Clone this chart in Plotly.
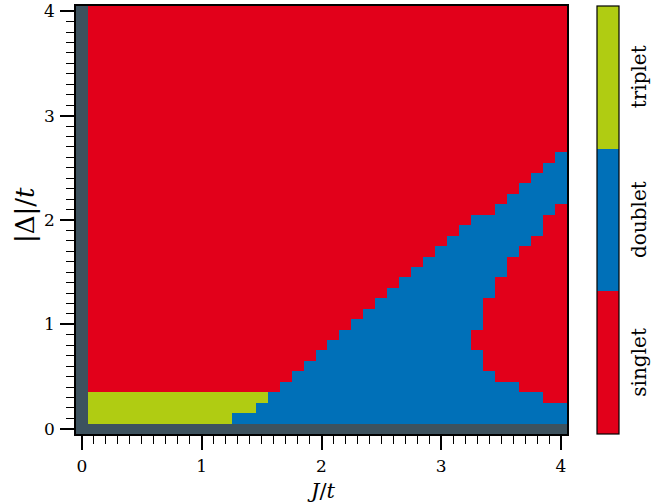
import numpy as np
import plotly.graph_objects as go

# ---- data -------------------------------------------------------------
J_vals = [round(0.1 * i, 1) for i in range(41)]        # J/t
D_vals = [round(0.1 * i, 1) for i in range(41)]        # |Delta|/t

# top of the low-|Delta| doublet region per column (0 = no doublet)
doublet_top = [0.0] * 13 + [0.1, 0.1, 0.2, 0.3, 0.4, 0.5, 0.6, 0.7, 0.8, 0.9,
                            1.0, 1.1, 1.2, 1.3, 1.4, 1.5, 1.6, 1.7, 1.8, 1.9,
                            2.0, 2.0, 2.1, 2.2, 2.3, 2.4, 2.5, 2.6]
# top of the triplet region per column (0 = none)
triplet_top = [0.0] + [0.3] * 15 + [0.0] * 25
# singlet pocket inside the doublet region, columns J = 3.3 ... 4.0
pocket_J = [3.3, 3.4, 3.5, 3.6, 3.7, 3.8, 3.9, 4.0]
pocket_lo = [0.8, 0.6, 0.5, 0.5, 0.4, 0.4, 0.3, 0.3]
pocket_hi = [0.9, 1.2, 1.4, 1.6, 1.7, 1.8, 2.0, 2.1]

phase_names = ["singlet", "doublet", "triplet"]
colors = {"singlet": "#e2001a", "doublet": "#0070b8", "triplet": "#b0cc12",
          "undefined": "#3d525e"}

# ---- build the grid ---------------------------------------------------
nJ, nD = len(J_vals), len(D_vals)
z = np.full((nD, nJ), 0.0)   # singlet default
for i in range(nJ):
    dt = int(round(doublet_top[i] * 10))
    tt = int(round(triplet_top[i] * 10))
    for j in range(1, nD):
        if j <= dt:
            z[j, i] = 1
        elif j <= tt:
            z[j, i] = 2
for k, jv in enumerate(pocket_J):
    i = int(round(jv * 10))
    for j in range(int(round(pocket_lo[k] * 10)), int(round(pocket_hi[k] * 10)) + 1):
        z[j, i] = 0
zg = np.full((nD, nJ), np.nan)
zg[0, :] = 1
zg[:, 0] = 1
z[0, :] = np.nan
z[:, 0] = np.nan

r, b, g = colors["singlet"], colors["doublet"], colors["triplet"]
cscale = [[0, r], [1 / 3, r], [1 / 3, b], [2 / 3, b], [2 / 3, g], [1, g]]

FONT = "DejaVu Serif"
L, R, T, B = 76, 84, 6, 70
PW, PH = 651 - L - R, 504 - T - B

def px_x(p):
    return (p - L) / PW

def px_y(p):
    return (504 - B - p) / PH

fig = go.Figure()
fig.add_trace(go.Heatmap(
    x=J_vals, y=D_vals, z=zg, colorscale=[[0, colors["undefined"]], [1, colors["undefined"]]],
    showscale=False, hoverinfo="skip"))
fig.add_trace(go.Heatmap(
    x=J_vals, y=D_vals, z=z, zmin=-0.5, zmax=2.5, colorscale=cscale,
    colorbar=dict(x=px_x(597), xanchor="left", xpad=0, y=0.5, yanchor="middle",
                  ypad=0, len=1, lenmode="fraction", thickness=22,
                  outlinewidth=1.2, outlinecolor="black",
                  showticklabels=False, ticks="")))

for k, name in enumerate(phase_names):
    fig.add_annotation(x=px_x(639), y=(k + 0.5) / 3, xref="paper", yref="paper",
                       text=name, textangle=-90, showarrow=False,
                       xanchor="center", yanchor="middle",
                       font=dict(family=FONT, size=20, color="black"))

fig.add_annotation(x=px_x(321), y=px_y(491), xref="paper", yref="paper",
                   text="<i>J</i>/<i>t</i>", showarrow=False,
                   xanchor="center", yanchor="middle",
                   font=dict(family=FONT, size=21, color="black"))
fig.add_annotation(x=px_x(25), y=px_y(215), xref="paper", yref="paper",
                   text="|Δ|/<i>t</i>", textangle=-90, showarrow=False,
                   xanchor="center", yanchor="middle",
                   font=dict(family=FONT, size=26, color="black"))

axis_common = dict(showline=True, mirror=True, linecolor="black", linewidth=1.5,
                   ticks="outside", ticklen=14, tickwidth=2, tickcolor="black",
                   dtick=1, tick0=0, showgrid=False, zeroline=False,
                   automargin=False, ticklabelstandoff=2,
                   tickfont=dict(family=FONT, size=17, color="black"),
                   minor=dict(dtick=0.1, tick0=0, ticks="outside", ticklen=8,
                              tickwidth=1.2, tickcolor="black", showgrid=False))

fig.update_layout(
    width=651, height=504,
    margin=dict(l=L, r=R, t=T, b=B, autoexpand=False),
    paper_bgcolor="white", plot_bgcolor="white",
    xaxis=dict(range=[-0.05, 4.05], **axis_common),
    yaxis=dict(range=[-0.05, 4.05], **axis_common),
)

fig.write_html("out.html", config={"displayModeBar": False},
               post_script="document.body.style.margin='0';document.body.style.overflow='hidden';")
